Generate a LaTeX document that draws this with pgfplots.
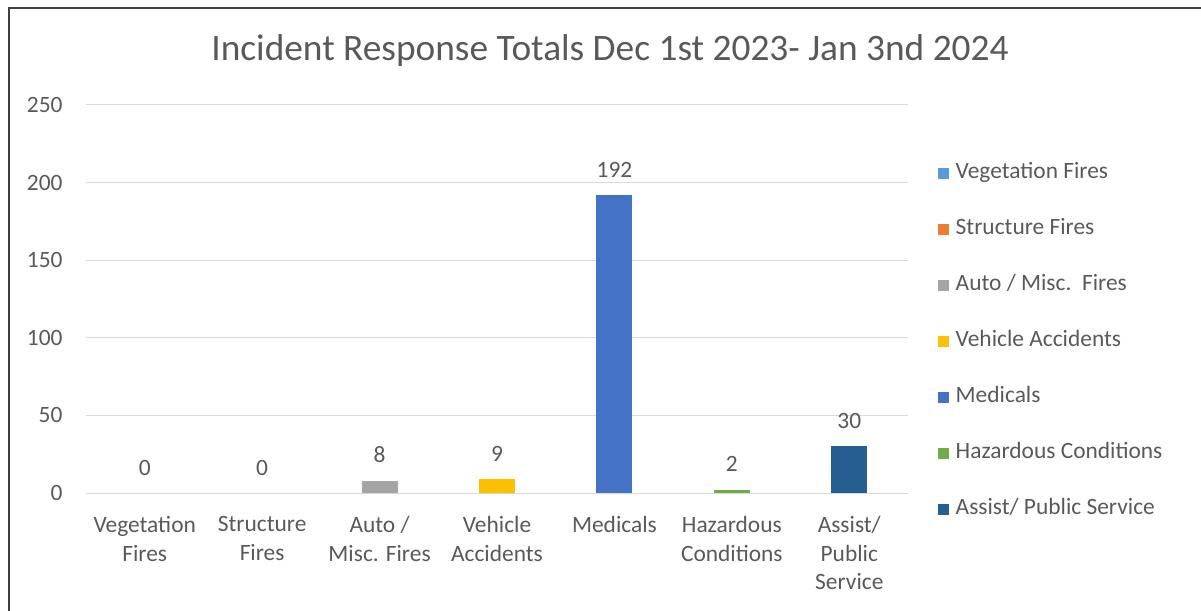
\documentclass[border=0pt]{standalone}
\usepackage{pgfplots}
\pgfplotsset{compat=1.18}
\usepackage{fontspec}
\setmainfont{Carlito}
\definecolor{txt}{HTML}{595959}
\definecolor{gridc}{HTML}{D9D9D9}
\definecolor{framec}{HTML}{404040}
\definecolor{c1}{HTML}{5B9BD5}
\definecolor{c2}{HTML}{ED7D31}
\definecolor{c3}{HTML}{A5A5A5}
\definecolor{c4}{HTML}{FFC000}
\definecolor{c5}{HTML}{4472C4}
\definecolor{c6}{HTML}{70AD47}
\definecolor{c7}{HTML}{255E91}
\begin{document}
\begin{tikzpicture}
\path[use as bounding box] (0bp,0bp) rectangle (1201bp,611bp);
\draw[line width=2bp, color=framec] (9bp,0bp) -- (9bp,603bp) -- (1201bp,603bp);
\node[font=\fontsize{37.5}{44}\selectfont, text=txt] at (610bp,560bp) {Incident Response Totals Dec 1st 2023- Jan 3nd 2024};
\begin{axis}[
  /pgf/number format/assume math mode=true,
  at={(86bp,118bp)}, anchor=south west,
  scale only axis, width=822bp, height=388bp,
  xmin=-0.5, xmax=6.5, ymin=0, ymax=250,
  ytick={0,50,...,250},
  ymajorgrids, grid style={draw=gridc, line width=1bp},
  axis line style={draw=none},
  major tick length=0pt,
  xtick={0,...,6},
  xticklabels={{Vegetation\\Fires},{Structure\\Fires},{Auto /\\Misc. Fires},{Vehicle\\Accidents},{Medicals},{Hazardous\\Conditions},{Assist/\\Public\\Service}},
  xticklabel style={align=center, font=\fontsize{23.5}{28.5}\selectfont, text=txt, anchor=north, yshift=-20bp},
  yticklabel style={font=\fontsize{23.5}{28}\selectfont, text=txt, anchor=east, xshift=-20bp},
  ybar, bar width=36bp, bar shift=0pt,
  nodes near coords,
  nodes near coords style={font=\fontsize{23.5}{28}\selectfont, text=txt, anchor=base, yshift=18bp},
  legend image code/.code={\path[#1] (0bp,-5.5bp) rectangle (11bp,5.5bp);},
  legend cell align=left,
  legend style={at={(1.0365,0.853)}, anchor=north west, draw=none, fill=none,
    font=\fontsize{23.5}{28}\selectfont, text=txt, inner sep=0pt,
    nodes={inner sep=2.5bp, text height=14bp, text depth=4bp},
    column sep=4bp, row sep=33bp},
]
\addplot[fill=c1, draw=none] coordinates {(0,0)};
\addplot[fill=c2, draw=none] coordinates {(1,0)};
\addplot[fill=c3, draw=none] coordinates {(2,8)};
\addplot[fill=c4, draw=none] coordinates {(3,9)};
\addplot[fill=c5, draw=none] coordinates {(4,192)};
\addplot[fill=c6, draw=none] coordinates {(5,2)};
\addplot[fill=c7, draw=none] coordinates {(6,30)};
\legend{Vegetation Fires, Structure Fires, Auto / Misc.\ \ Fires, Vehicle Accidents, Medicals, Hazardous Conditions, Assist/ Public Service}
\end{axis}
\end{tikzpicture}
\end{document}
